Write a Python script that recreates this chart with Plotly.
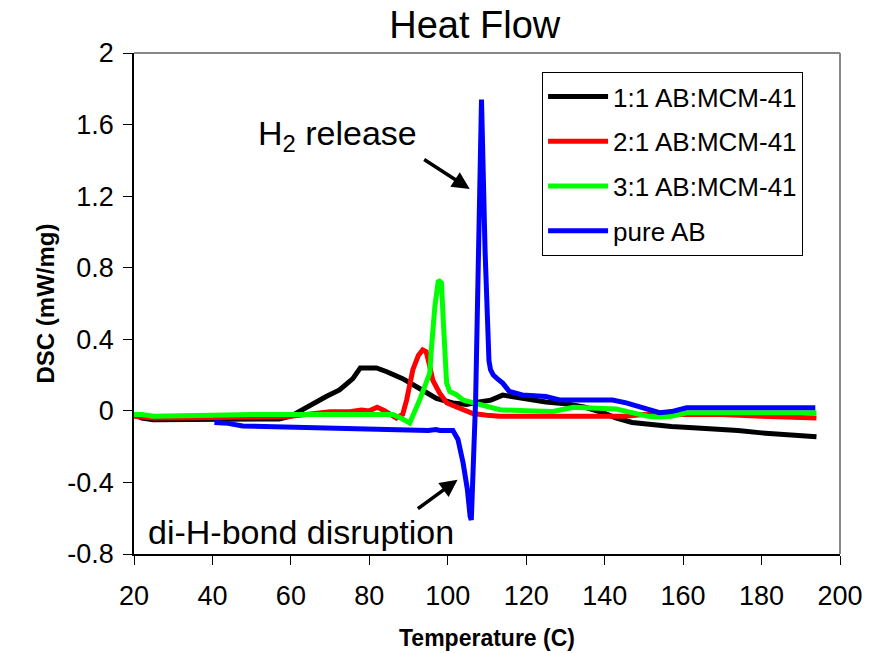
import plotly.graph_objects as go

# ---- data ----
t_11 = [20, 22, 25, 30, 40, 50, 57, 60, 62, 65.6, 69, 72.4, 75.8, 77.7, 80, 81.8, 84.3, 88.5, 92.8, 97.1,
        101.3, 104.8, 108, 111, 114, 118.4, 125, 130, 135, 139.5, 143, 147, 152, 157, 162.5, 168, 174,
        180, 186, 190, 194]
dsc_11 = [-0.02, -0.04, -0.05, -0.05, -0.05, -0.05, -0.045, -0.03, -0.005, 0.044, 0.08, 0.117, 0.18, 0.24,
          0.24, 0.24, 0.22, 0.18, 0.125, 0.07, 0.044, 0.035, 0.05, 0.06, 0.088, 0.072, 0.05, 0.04, 0.02,
          -0.01, -0.04, -0.065, -0.08, -0.088, -0.095, -0.1, -0.11, -0.123, -0.13, -0.138, -0.145]

t_21 = [20, 25, 30, 40, 50, 60, 65, 70, 75, 78, 80, 82, 84, 86.9, 88.5, 89.5, 91.1, 92.5, 93.6, 94.5,
        95.3, 96.2, 97.9, 99.7, 101.3, 104, 106.4, 110, 113.3, 120, 130, 140, 145, 150, 160, 170, 180,
        187, 194]
dsc_21 = [-0.03, -0.04, -0.04, -0.04, -0.035, -0.03, -0.02, -0.005, -0.005, 0.005, 0.0, 0.02, 0.0, -0.04,
          -0.02, 0.06, 0.23, 0.31, 0.34, 0.33, 0.26, 0.17, 0.1, 0.045, 0.03, 0.006, -0.015, -0.025, -0.03,
          -0.03, -0.03, -0.03, -0.03, -0.02, -0.02, -0.02, -0.03, -0.035, -0.04]

t_31 = [20, 22, 25, 30, 40, 50, 60, 70, 80, 86, 88, 90.3, 92.8, 94.6, 95.4, 95.8, 96.7, 97.6, 98.4,
        98.8, 99.2, 99.7, 100.5, 102.2, 104, 106.4, 110, 113.3, 120, 126.8, 132, 139, 143, 147.2, 151,
        154, 157, 160.9, 170, 180, 194]
dsc_31 = [-0.02, -0.02, -0.03, -0.03, -0.025, -0.02, -0.02, -0.02, -0.02, -0.02, -0.04, -0.068, 0.06,
          0.156, 0.21, 0.34, 0.58, 0.73, 0.715, 0.527, 0.285, 0.156, 0.108, 0.09, 0.06, 0.045, 0.02, 0.006,
          0.0, -0.003, 0.02, 0.017, 0.01, -0.011, -0.03, -0.034, -0.03, -0.011, -0.008, -0.01, -0.011]

t_ab = [40.5, 44, 47.7, 55, 61.4, 70, 79.2, 85, 90, 95, 97, 98, 101.3, 102.6, 103.9, 105, 105.7, 106,
        107.1, 107.9, 108.6, 109.5, 110.2, 110.5, 110.9, 111.6, 112.6, 114, 115.7, 119, 125, 128.5, 135,
        142, 145.5, 151, 154, 157, 160.9, 170, 180, 193.7]
dsc_ab = [-0.065, -0.07, -0.084, -0.088, -0.09, -0.095, -0.106, -0.105, -0.11, -0.11, -0.105, -0.11,
          -0.11, -0.16, -0.29, -0.44, -0.59, -0.61, 0.06, 0.9, 1.74, 0.9, 0.38, 0.28, 0.23, 0.2, 0.18,
          0.155, 0.108, 0.089, 0.08, 0.061, 0.06, 0.061, 0.045, 0.006, -0.01, -0.004, 0.017, 0.017,
          0.017, 0.017]

series_names = ["1:1 AB:MCM-41", "2:1 AB:MCM-41", "3:1 AB:MCM-41", "pure AB"]
series_colors = ["#000000", "#FF0000", "#00FF00", "#0000FF"]

y_tick_vals = [2, 1.6, 1.2, 0.8, 0.4, 0, -0.4, -0.8]
y_tick_text = ["2", "1.6", "1.2", "0.8", "0.4", "0", "-0.4", "-0.8"]
x_tick_vals = [20, 40, 60, 80, 100, 120, 140, 160, 180, 200]

FONT = "Liberation Sans, Arial, sans-serif"

fig = go.Figure()
for i, (tx, ty) in enumerate([(t_11, dsc_11), (t_21, dsc_21), (t_31, dsc_31), (t_ab, dsc_ab)]):
    fig.add_trace(go.Scatter(x=tx, y=ty, mode="lines", name=series_names[i],
                             legendgroup=f"g{i}",
                             line=dict(color=series_colors[i], width=5)))

fig.update_layout(
    width=876, height=653,
    margin=dict(l=134, r=36, t=53, b=99),
    paper_bgcolor="white", plot_bgcolor="white",
    font=dict(family=FONT, color="black", size=26),
    title=dict(text="Heat Flow", x=0.542, xanchor="center", y=0.962, yanchor="middle",
               font=dict(family=FONT, size=38, color="black")),
    showlegend=True,
    legend=dict(x=0.578, y=0.962, xanchor="left", yanchor="top",
                bgcolor="white", bordercolor="black", borderwidth=1,
                font=dict(family=FONT, size=26, color="black"),
                tracegroupgap=8, itemwidth=60),
    xaxis=dict(range=[20, 200], tickvals=x_tick_vals, ticks="outside", ticklen=9, tickwidth=1,
               tickcolor="black", showline=True, linecolor="black", linewidth=1.5, showgrid=False,
               zeroline=False, tickfont=dict(size=27), ticklabelstandoff=8, automargin=False,
               title=dict(text="<b>Temperature (C)</b>", font=dict(family=FONT, size=23), standoff=20)),
    yaxis=dict(range=[-0.8, 2], tickvals=y_tick_vals, ticktext=y_tick_text, ticks="outside", ticklen=9,
               tickwidth=1, tickcolor="black", showline=True, linecolor="black", linewidth=1.5,
               showgrid=False, zeroline=False, tickfont=dict(size=27), ticklabelstandoff=4,
               automargin=False,
               title=dict(text="<b>DSC (mW/mg)</b>", font=dict(family=FONT, size=24), standoff=6)),
    shapes=[
        dict(type="line", xref="paper", yref="paper", x0=0, x1=1, y0=1, y1=1,
             line=dict(color="#888888", width=2)),
        dict(type="line", xref="paper", yref="paper", x0=1, x1=1, y0=0, y1=1,
             line=dict(color="#888888", width=2)),
    ],
    annotations=[
        dict(x=105.6, y=1.24, ax=93.6, ay=1.41, axref="x", ayref="y", xref="x", yref="y",
             text="", showarrow=True, arrowhead=2, arrowsize=1, arrowwidth=3.5, arrowcolor="black"),
        dict(x=102.5, y=-0.385, ax=92.0, ay=-0.553, axref="x", ayref="y", xref="x", yref="y",
             text="", showarrow=True, arrowhead=2, arrowsize=1, arrowwidth=3.5, arrowcolor="black"),
        dict(x=71.8, y=1.54, xref="x", yref="y", text="H<sub>2</sub> release", showarrow=False,
             xanchor="center", yanchor="middle", font=dict(family=FONT, size=34, color="black")),
        dict(x=62.6, y=-0.675, xref="x", yref="y", text="di-H-bond disruption", showarrow=False,
             xanchor="center", yanchor="middle", font=dict(family=FONT, size=34, color="black")),
    ],
)

fig.write_html("out.html")
